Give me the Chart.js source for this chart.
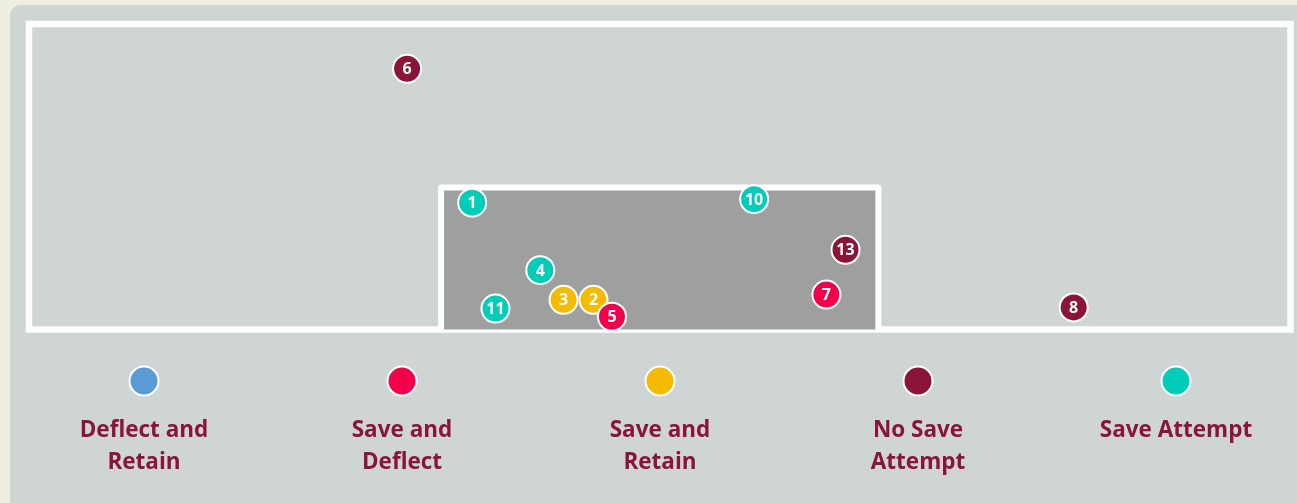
<!DOCTYPE html>
<html>
<head>
<meta charset="utf-8">
<script src="https://cdn.jsdelivr.net/npm/chart.js@4.4.1/dist/chart.umd.min.js"></script>
<style>
  html, body { margin: 0; padding: 0; background: #eeeee2; }
  #wrap { position: relative; width: 1297px; height: 503px; }
</style>
</head>
<body>
<div id="wrap"><canvas id="goalmap" width="1297" height="503"></canvas></div>
<script>
// Shot outcome categories and their colours
const categories = ['Deflect and Retain', 'Save and Deflect', 'Save and Retain', 'No Save Attempt', 'Save Attempt'];
const legendLines = [['Deflect and', 'Retain'], ['Save and', 'Deflect'], ['Save and', 'Retain'], ['No Save', 'Attempt'], ['Save Attempt']];
const colors = ['#5b9bd5', '#f3004b', '#f5bb00', '#8a1538', '#00cdb8'];

// Shot numbers, ending positions (metres from goal centre, metres above ground) and outcome
const shotNumbers = [1, 2, 3, 4, 5, 6, 7, 8, 10, 11, 13];
const shotX       = [-3.14, -1.11, -1.61, -2.00, -0.80, -4.23, 2.79, 6.93, 1.58, -2.75, 3.11];
const shotY       = [2.18, 0.51, 0.51, 1.02, 0.22, 4.48, 0.60, 0.38, 2.24, 0.36, 1.37];
const shotOutcome = ['Save Attempt', 'Save and Retain', 'Save and Retain', 'Save Attempt', 'Save and Deflect',
                     'No Save Attempt', 'Save and Deflect', 'No Save Attempt', 'Save Attempt', 'Save Attempt', 'No Save Attempt'];

// Goal frame (metres)
const goalHalfWidth = 3.66;
const goalHeight = 2.44;
const fieldX = [-10.56, 10.56];
const fieldY = [0, 5.25];

const datasets = categories.map((cat, ci) => ({
  label: cat,
  data: shotNumbers
    .map((n, i) => ({ x: shotX[i], y: shotY[i], n: n, cat: shotOutcome[i] }))
    .filter(p => p.cat === cat),
  backgroundColor: colors[ci],
  borderColor: '#ffffff',
  borderWidth: 2,
  pointRadius: 14,
  pointHoverRadius: 14,
  pointBorderWidth: 2,
}));

const LABEL_FONT = 'bold 22.5px "Open Sans", sans-serif';
const TEXT_COLOR = '#8a1538';

// Background panel, pitch frame and goal
const pitchPlugin = {
  id: 'pitch',
  beforeDatasetsDraw(chart) {
    const { ctx, scales: { x, y } } = chart;
    ctx.save();
    // panel
    ctx.fillStyle = '#cfd5d5';
    ctx.beginPath();
    ctx.roundRect(10, 5, chart.width + 20, chart.height + 20, 10);
    ctx.fill();

    const l = x.getPixelForValue(fieldX[0]), r = x.getPixelForValue(fieldX[1]);
    const t = y.getPixelForValue(fieldY[1]), b = y.getPixelForValue(fieldY[0]);
    ctx.strokeStyle = '#ffffff';
    ctx.lineWidth = 6.5;
    ctx.strokeRect(l, t, r - l, b - t);

    const gl = x.getPixelForValue(-goalHalfWidth), gr = x.getPixelForValue(goalHalfWidth);
    const gt = y.getPixelForValue(goalHeight);
    ctx.fillStyle = '#9da09f';
    ctx.fillRect(gl, gt, gr - gl, b - gt);
    ctx.lineWidth = 6;
    ctx.lineJoin = 'round';
    ctx.beginPath();
    ctx.moveTo(gl, b);
    ctx.lineTo(gl, gt);
    ctx.lineTo(gr, gt);
    ctx.lineTo(gr, b);
    ctx.stroke();
    ctx.restore();
  },
  afterDatasetDraw(chart, args) {
    const { ctx } = chart;
    const meta = chart.getDatasetMeta(args.index);
    const ds = chart.data.datasets[args.index];
    ctx.save();
    ctx.fillStyle = '#ffffff';
    ctx.font = 'bold 16px "Open Sans", sans-serif';
    ctx.textAlign = 'center';
    ctx.textBaseline = 'middle';
    meta.data.forEach((pt, i) => {
      ctx.fillText(String(ds.data[i].n), pt.x, pt.y + 1);
    });
    ctx.restore();
  },
  afterDraw(chart) {
    const { ctx } = chart;
    ctx.save();
    const startX = 144, stepX = 258, dotY = 381;
    categories.forEach((cat, i) => {
      const cx = startX + i * stepX;
      ctx.beginPath();
      ctx.arc(cx, dotY, 14.5, 0, Math.PI * 2);
      ctx.fillStyle = colors[i];
      ctx.fill();
      ctx.lineWidth = 2;
      ctx.strokeStyle = '#ffffff';
      ctx.stroke();
      ctx.fillStyle = TEXT_COLOR;
      ctx.font = LABEL_FONT;
      ctx.textAlign = 'center';
      ctx.textBaseline = 'alphabetic';
      legendLines[i].forEach((line, k) => {
        ctx.fillText(line, cx, 437 + k * 32);
      });
    });
    ctx.restore();
  }
};

new Chart(document.getElementById('goalmap'), {
  type: 'scatter',
  data: { datasets },
  options: {
    responsive: false,
    animation: false,
    events: [],
    layout: { autoPadding: false, padding: { left: 29, right: 6.5, top: 24, bottom: 173.5 } },
    scales: {
      x: { type: 'linear', min: fieldX[0], max: fieldX[1], display: false },
      y: { type: 'linear', min: fieldY[0], max: fieldY[1], display: false }
    },
    plugins: {
      legend: { display: false },
      tooltip: { enabled: false }
    },
    clip: false
  },
  plugins: [pitchPlugin]
});
</script>
</body>
</html>
